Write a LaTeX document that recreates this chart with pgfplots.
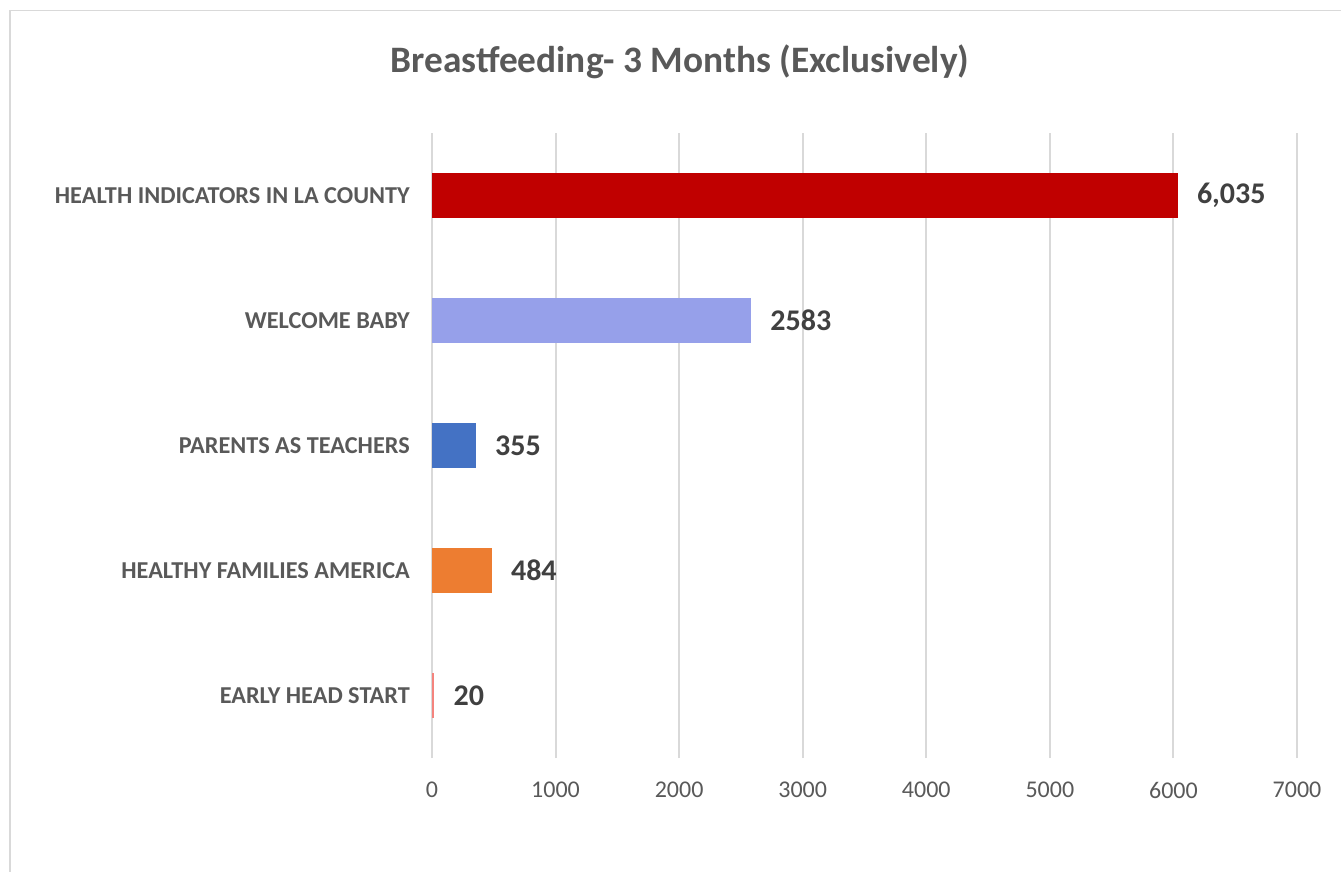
\documentclass[border=0pt]{standalone}
\usepackage{pgfplots}
\pgfplotsset{compat=1.18}
\usepackage{fontspec}
\setmainfont{Carlito}
\definecolor{txtgray}{HTML}{595959}
\definecolor{lblgray}{HTML}{404040}
\definecolor{gridgray}{HTML}{D9D9D9}
\definecolor{cRed}{HTML}{C00000}
\definecolor{cLav}{HTML}{96A0EA}
\definecolor{cBlue}{HTML}{4472C4}
\definecolor{cOrange}{HTML}{ED7D31}
\definecolor{cPink}{HTML}{F4837D}
\begin{document}
\begin{tikzpicture}
\begin{scope}[x=0.75pt,y=0.75pt]
\useasboundingbox (0,0) rectangle (1341,871);
\begin{scope}
\clip (0,0) rectangle (1341,871);
\draw[gridgray, line width=1.2pt] (10,-20) rectangle (1400,860.5);
\end{scope}
\node[font=\fontsize{28}{33}\selectfont\bfseries, text=txtgray] at (680,809) {Breastfeeding- 3 Months (Exclusively)};
\end{scope}
\begin{axis}[
  at={(324pt,84.75pt)}, anchor=south west,
  scale only axis, width=648.75pt, height=468.75pt,
  xbar, bar width=33.75pt,
  xmin=0, xmax=7000, ymin=-0.5, ymax=4.5,
  xtick={0,1000,...,7000},
  ytick={0,1,2,3,4},
  yticklabels={EARLY HEAD START, HEALTHY FAMILIES AMERICA, PARENTS AS TEACHERS, WELCOME BABY, HEALTH INDICATORS IN LA COUNTY},
  scaled x ticks=false,
  xticklabel={\pgfmathprintnumber[fixed,1000 sep={}]{\tick}},
  /pgf/number format/assume math mode=true,
  xmajorgrids, ymajorgrids=false,
  grid style={gridgray, line width=1.5pt},
  axis line style={draw=none},
  major tick length=0pt,
  xticklabel style={font=\fontsize{18}{21}\selectfont, text=txtgray, inner sep=0pt, anchor=north, yshift=-18pt},
  yticklabel style={font=\fontsize{18.2}{21}\selectfont\bfseries, text=txtgray, inner sep=0pt, anchor=east, xshift=-16.5pt},
  every axis plot/.append style={draw=none, bar shift=0pt},
  nodes near coords style={font=\fontsize{22.5}{26}\selectfont\bfseries, text=lblgray, inner sep=0pt, anchor=west, xshift=14.25pt},
]
\addplot[fill=cRed, nodes near coords={6,035}] coordinates {(6035,4)};
\addplot[fill=cLav, nodes near coords={2583}] coordinates {(2583,3)};
\addplot[fill=cBlue, nodes near coords={355}] coordinates {(355,2)};
\addplot[fill=cOrange, nodes near coords={484}] coordinates {(484,1)};
\addplot[fill=cPink, nodes near coords={20}] coordinates {(20,0)};
\end{axis}
\end{tikzpicture}
\end{document}
